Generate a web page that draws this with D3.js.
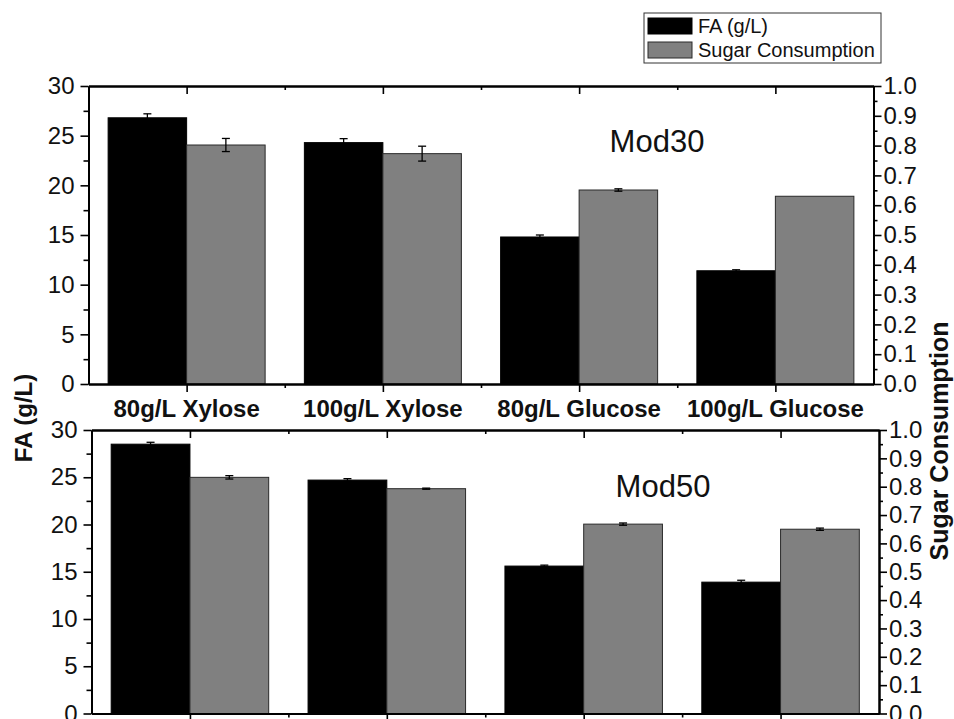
<!DOCTYPE html>
<html>
<head>
<meta charset="utf-8">
<script src="https://cdn.jsdelivr.net/npm/d3@7"></script>
<style>
  body { margin: 0; background: #fff; }
  text { font-family: "Liberation Sans", Arial, sans-serif; fill: #111; }
</style>
</head>
<body>
<div id="chart"></div>
<script>
// Data
var categories = ["80g/L Xylose", "100g/L Xylose", "80g/L Glucose", "100g/L Glucose"];

var mod30FA = [26.8, 24.3, 14.8, 11.4];
var mod30FAErr = [0.4, 0.4, 0.2, 0.1];
var mod30Sugar = [0.802, 0.773, 0.651, 0.630];
var mod30SugarErr = [0.022, 0.025, 0.004, 0];

var mod50FA = [28.5, 24.7, 15.6, 13.9];
var mod50FAErr = [0.2, 0.15, 0.1, 0.2];
var mod50Sugar = [0.833, 0.793, 0.668, 0.650];
var mod50SugarErr = [0.006, 0.002, 0.004, 0.004];

var faTicks = [0, 5, 10, 15, 20, 25, 30];
var faMinor = [2.5, 7.5, 12.5, 17.5, 22.5, 27.5];
var sugarTicks = [0, 0.1, 0.2, 0.3, 0.4, 0.5, 0.6, 0.7, 0.8, 0.9, 1.0];
var sugarMinor = [0.05, 0.15, 0.25, 0.35, 0.45, 0.55, 0.65, 0.75, 0.85, 0.95];

var svgWidth = 954;
var svgHeight = 719;

var svg = d3.select("#chart")
  .append("svg")
  .attr("width", svgWidth)
  .attr("height", svgHeight);

var barW = 0.8;
var catPos = [1, 3, 5, 7];

function drawPanel(p) {
  var x = d3.scaleLinear().domain([0, 8]).range([p.left, p.right]);
  var yFA = d3.scaleLinear().domain([0, 30]).range([p.bottom, p.top]);
  var yS = d3.scaleLinear().domain([0, 1]).range([p.bottom, p.top]);

  var g = svg.append("g");

  // bars
  g.selectAll(".fa")
    .data(p.fa)
    .enter()
    .append("rect")
    .attr("x", (d, i) => x(catPos[i] - barW))
    .attr("y", d => yFA(d))
    .attr("width", x(barW) - x(0))
    .attr("height", d => yFA(0) - yFA(d))
    .attr("fill", "#000")
    .attr("stroke", "#000");

  g.selectAll(".sugar")
    .data(p.sugar)
    .enter()
    .append("rect")
    .attr("x", (d, i) => x(catPos[i]))
    .attr("y", d => yS(d))
    .attr("width", x(barW) - x(0))
    .attr("height", d => yS(0) - yS(d))
    .attr("fill", "#808080")
    .attr("stroke", "#2a2a2a")
    .attr("stroke-width", 1);

  // error bars
  function errBars(vals, errs, scale, offset) {
    vals.forEach(function (v, i) {
      var e = errs[i];
      if (!e) return;
      var cx = x(catPos[i] + offset);
      var eg = g.append("g").attr("stroke", "#000").attr("stroke-width", 1.3);
      eg.append("line")
        .attr("x1", cx).attr("x2", cx)
        .attr("y1", scale(v - e)).attr("y2", scale(v + e));
      [v - e, v + e].forEach(function (yy) {
        eg.append("line")
          .attr("x1", cx - 4).attr("x2", cx + 4)
          .attr("y1", scale(yy)).attr("y2", scale(yy));
      });
    });
  }
  errBars(p.fa, p.faErr, yFA, -barW / 2);
  errBars(p.sugar, p.sugarErr, yS, barW / 2);

  // axes
  function styleAxis(sel) {
    sel.select(".domain").attr("stroke", "#000").attr("stroke-width", 2);
    sel.selectAll(".tick line").attr("stroke", "#000").attr("stroke-width", 1.6);
    sel.selectAll(".tick text").style("font-size", "24px").attr("fill", "#111");
  }

  var leftAxis = d3.axisLeft(yFA).tickValues(faTicks).tickSize(8).tickSizeOuter(0).tickPadding(6);
  var leftMinor = d3.axisLeft(yFA).tickValues(faMinor).tickSize(5).tickSizeOuter(0).tickFormat("");
  var rightAxis = d3.axisRight(yS).tickValues(sugarTicks).tickSize(8).tickSizeOuter(0).tickPadding(2)
    .tickFormat(d3.format(".1f"));
  var rightMinor = d3.axisRight(yS).tickValues(sugarMinor).tickSize(4).tickSizeOuter(0).tickFormat("");
  var bottomAxis = d3.axisBottom(x).tickValues(catPos).tickSize(8).tickSizeOuter(0).tickFormat("");
  var bottomMinor = d3.axisBottom(x).tickValues([2, 4, 6]).tickSize(4).tickSizeOuter(0).tickFormat("");
  var topAxis = d3.axisBottom(x).tickValues(catPos).tickSize(8).tickSizeOuter(0).tickFormat("");
  var topMinor = d3.axisBottom(x).tickValues([2, 4, 6]).tickSize(4).tickSizeOuter(0).tickFormat("");

  g.append("g").attr("transform", `translate(${p.left},0)`).call(leftAxis).call(styleAxis);
  g.append("g").attr("transform", `translate(${p.left},0)`).call(leftMinor).call(styleAxis);
  g.append("g").attr("transform", `translate(${p.right},0)`).call(rightAxis).call(styleAxis);
  g.append("g").attr("transform", `translate(${p.right},0)`).call(rightMinor).call(styleAxis);
  g.append("g").attr("transform", `translate(0,${p.bottom})`).call(bottomAxis).call(styleAxis);
  g.append("g").attr("transform", `translate(0,${p.bottom})`).call(bottomMinor).call(styleAxis);
  g.append("g").attr("transform", `translate(0,${p.top})`).call(topAxis).call(styleAxis);
  g.append("g").attr("transform", `translate(0,${p.top})`).call(topMinor).call(styleAxis);

  // panel name
  g.append("text")
    .attr("x", p.nameX)
    .attr("y", p.nameY)
    .attr("text-anchor", "middle")
    .style("font-size", "31px")
    .text(p.name);

  if (p.showCats) {
    g.selectAll(".cat")
      .data(categories)
      .enter()
      .append("text")
      .attr("x", (d, i) => x(catPos[i]))
      .attr("y", p.bottom + 33)
      .attr("text-anchor", "middle")
      .style("font-size", "24px")
      .style("font-weight", "bold")
      .text(d => d);
  }
}

drawPanel({
  left: 88.5, right: 873.5, top: 86, bottom: 384,
  fa: mod30FA, faErr: mod30FAErr, sugar: mod30Sugar, sugarErr: mod30SugarErr,
  name: "Mod30", nameX: 657, nameY: 152, showCats: true
});

drawPanel({
  left: 91.5, right: 879, top: 430, bottom: 713.5,
  fa: mod50FA, faErr: mod50FAErr, sugar: mod50Sugar, sugarErr: mod50SugarErr,
  name: "Mod50", nameX: 663, nameY: 497, showCats: false
});

// axis titles
svg.append("text")
  .attr("transform", "translate(31.5,418) rotate(-90)")
  .attr("text-anchor", "middle")
  .style("font-size", "24px")
  .style("font-weight", "bold")
  .text("FA (g/L)");

svg.append("text")
  .attr("transform", "translate(948,441) rotate(-90)")
  .attr("text-anchor", "middle")
  .style("font-size", "25px")
  .style("font-weight", "bold")
  .text("Sugar Consumption");

// legend
var legend = svg.append("g");
legend.append("rect")
  .attr("x", 644).attr("y", 13)
  .attr("width", 237).attr("height", 50)
  .attr("fill", "#fff")
  .attr("stroke", "#333")
  .attr("stroke-width", 1);

var legendItems = [
  { label: "FA (g/L)", fill: "#000", stroke: "#000" },
  { label: "Sugar Consumption", fill: "#808080", stroke: "#2a2a2a" }
];

legend.selectAll(".sw")
  .data(legendItems)
  .enter()
  .append("rect")
  .attr("x", 648)
  .attr("y", (d, i) => 18 + i * 24)
  .attr("width", 44)
  .attr("height", 16)
  .attr("fill", d => d.fill)
  .attr("stroke", d => d.stroke);

legend.selectAll(".lt")
  .data(legendItems)
  .enter()
  .append("text")
  .attr("x", 698)
  .attr("y", (d, i) => 33 + i * 24)
  .style("font-size", "20px")
  .text(d => d.label);
</script>
</body>
</html>
